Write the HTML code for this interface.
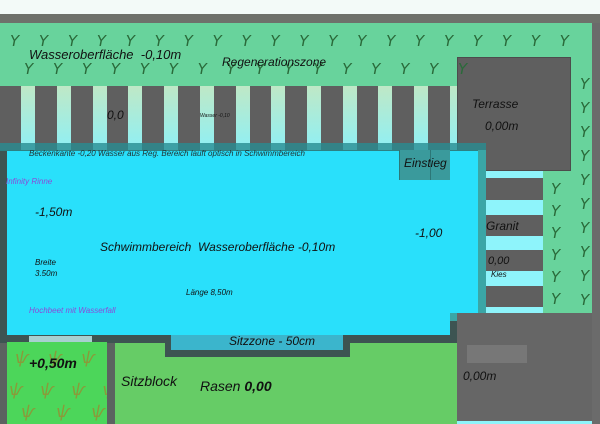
<!DOCTYPE html>
<html><head><meta charset="utf-8"><style>
*{margin:0;padding:0;box-sizing:border-box}
body{width:600px;height:424px;position:relative;overflow:hidden;background:#5b6360;font-family:"Liberation Sans",sans-serif;font-style:italic;color:#111}
div{position:absolute}
.t{white-space:nowrap;line-height:1}
.s{width:14px;top:86px;height:64px;background:linear-gradient(#bfe8c6,#8ff0f5)}
.p{color:#2a6a3a;font-size:15px;font-family:"DejaVu Sans",sans-serif}
.g{color:#8a9a3a;font-size:16px;font-family:"DejaVu Sans",sans-serif}
.c{left:486px;width:57px;background:#8ef4fb}
</style></head><body>
<div style="left:0;top:0;width:600px;height:14px;background:#f3faf8"></div>
<div style="left:0;top:14px;width:600px;height:9px;background:#6e716b"></div>
<div style="left:0;top:23px;width:592px;height:63px;background:#68d39c"></div>
<div style="left:543px;top:86px;width:49px;height:228px;background:#68d39c"></div>
<div style="left:592px;top:23px;width:8px;height:401px;background:#6b6b6b"></div>
<div style="left:0;top:86px;width:457px;height:64px;background:#5f5f5f"></div>
<div class="s" style="left:21px"></div><div class="s" style="left:57px"></div><div class="s" style="left:93px"></div><div class="s" style="left:128px"></div><div class="s" style="left:164px"></div><div class="s" style="left:200px"></div><div class="s" style="left:236px"></div><div class="s" style="left:271px"></div><div class="s" style="left:307px"></div><div class="s" style="left:343px"></div><div class="s" style="left:378px"></div><div class="s" style="left:414px"></div><div class="s" style="left:450px;width:7px"></div>
<div style="left:457px;top:57px;width:114px;height:114px;background:#5f5f5f;border:1px solid #4c4c4c"></div>
<div style="left:486px;top:171px;width:57px;height:143px;background:#5f5f5f"></div>
<div class="c" style="top:171px;height:7px"></div><div class="c" style="top:200px;height:15px"></div><div class="c" style="top:236px;height:14px"></div><div class="c" style="top:271px;height:15px"></div><div class="c" style="top:307px;height:7px"></div>
<div style="left:0;top:150px;width:486px;height:193px;background:#3d5452"></div>
<div style="left:0;top:143px;width:486px;height:8px;background:rgba(40,140,145,0.8)"></div>
<div style="left:478px;top:150px;width:8px;height:164px;background:#3aa6a6"></div>
<div style="left:7px;top:151px;width:471px;height:162px;background:#29e0fb"></div>
<div style="left:7px;top:313px;width:443px;height:22px;background:#29e0fb"></div>
<div style="left:450px;top:313px;width:36px;height:8px;background:#3aa6a6"></div>
<div style="left:399px;top:150px;width:51px;height:30px;background:#3a9a9c;border-left:1px solid #2c7777"></div>
<div style="left:430px;top:150px;width:1px;height:30px;background:#2c7777"></div>
<div style="left:457px;top:313px;width:135px;height:111px;background:#666"></div>
<div style="left:467px;top:345px;width:60px;height:18px;background:#777"></div>
<div style="left:457px;top:421px;width:135px;height:3px;background:#8ef4fb"></div>
<div style="left:165px;top:335px;width:185px;height:22px;background:#3d5452"></div>
<div style="left:171px;top:335px;width:172px;height:15px;background:#3bb5cc"></div>
<div style="left:29px;top:336px;width:63px;height:6px;background:#a8d0d0"></div>
<div style="left:7px;top:342px;width:100px;height:82px;background:#4cd65a;overflow:hidden"><div class="t g" style="left:8px;top:8px;word-spacing:14px">ѱ ѱ ѱ ѱ</div><div class="t g" style="left:2px;top:40px;word-spacing:12px">ѱ ѱ ѱ ѱ ѱ</div><div class="t g" style="left:14px;top:62px;word-spacing:16px">ѱ ѱ ѱ</div></div>
<div style="left:115px;top:357px;width:342px;height:67px;background:#66cc66"></div>
<div style="left:115px;top:343px;width:50px;height:14px;background:#66cc66"></div>
<div style="left:350px;top:343px;width:107px;height:14px;background:#66cc66"></div>
<div class="t p" style="left:10px;top:34px;word-spacing:15px">Y Y Y Y Y Y Y Y Y Y Y Y Y Y Y Y Y Y Y Y</div>
<div class="t p" style="left:24px;top:62px;word-spacing:15px">Y Y Y Y Y Y Y Y Y Y Y Y Y Y Y Y</div>
<div class="t p" style="left:580px;top:72px;line-height:24px;white-space:normal;width:12px">Y Y Y Y Y Y Y Y Y Y</div>
<div class="t p" style="left:551px;top:178px;line-height:22px;white-space:normal;width:12px">Y Y Y Y Y Y</div>
<div class="t" style="left:29px;top:48px;font-size:13px">Wasseroberfläche &nbsp;-0,10m</div>
<div class="t" style="left:222px;top:56px;font-size:12px">Regenerationszone</div>
<div class="t" style="left:107px;top:109px;font-size:12px">0,0</div>
<div class="t" style="left:200px;top:114px;font-size:5px">Wasser -0,10</div>
<div class="t" style="left:472px;top:98px;font-size:12px">Terrasse</div>
<div class="t" style="left:485px;top:120px;font-size:12px">0,00m</div>
<div class="t" style="left:29px;top:150px;font-size:8px;color:#233">Beckenkante -0,20 Wasser aus Reg. Bereich lauft optisch in Schwimmbereich</div>
<div class="t" style="left:404px;top:157px;font-size:12px">Einstieg</div>
<div class="t" style="left:6px;top:178px;font-size:8px;color:#8a4bd8">Infinity Rinne</div>
<div class="t" style="left:35px;top:206px;font-size:12px">-1,50m</div>
<div class="t" style="left:100px;top:241px;font-size:12px">Schwimmbereich &nbsp;Wasseroberfläche -0,10m</div>
<div class="t" style="left:415px;top:227px;font-size:12px">-1,00</div>
<div class="t" style="left:35px;top:257px;font-size:8px;line-height:11px">Breite<br>3.50m</div>
<div class="t" style="left:186px;top:289px;font-size:8px">Länge 8,50m</div>
<div class="t" style="left:29px;top:307px;font-size:8px;color:#8a4bd8">Hochbeet mit Wasserfall</div>
<div class="t" style="left:486px;top:220px;font-size:12px">Granit</div>
<div class="t" style="left:488px;top:256px;font-size:11px">0,00</div>
<div class="t" style="left:491px;top:271px;font-size:8px">Kies</div>
<div class="t" style="left:229px;top:335px;font-size:12px">Sitzzone - 50cm</div>
<div class="t" style="left:29px;top:356px;font-size:14px;font-weight:bold">+0,50m</div>
<div class="t" style="left:121px;top:374px;font-size:14px">Sitzblock</div>
<div class="t" style="left:200px;top:379px;font-size:14px">Rasen <b>0,00</b></div>
<div class="t" style="left:463px;top:370px;font-size:12px">0,00m</div>
</body></html>
